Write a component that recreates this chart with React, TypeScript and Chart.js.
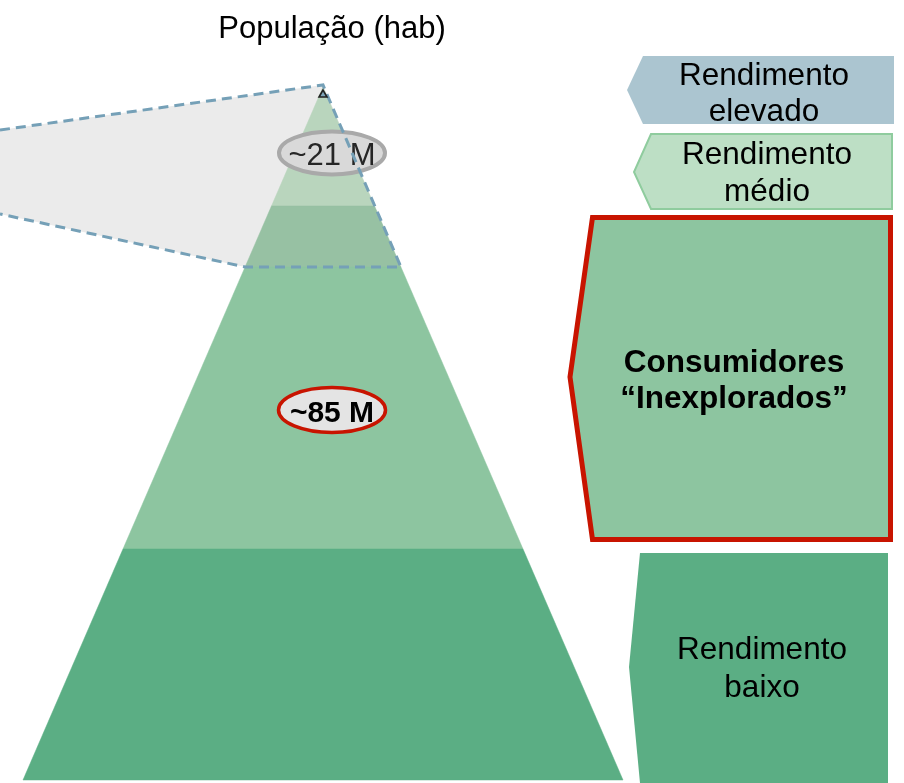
import { useEffect, useRef } from "react";
import { Chart, registerables } from "chart.js";

Chart.register(...registerables);

// ---- data ----
const chartTitle = "População (hab)";
// pyramid bands, bottom to top, as a share of the pyramid height (0 = base, 1 = apex)
const bandNames = ["Rendimento baixo", "Consumidores “Inexplorados”", "Rendimento médio", "Rendimento elevado"];
const bandBottoms = [0, 0.3333, 0.7403, 0.8283];
const bandTops = [0.3333, 0.7403, 0.8283, 1];
// population call-outs and the level at which they sit
const populationLabels = ["~85 M", "~21 M"];
const populationLevels = [0.534, 0.9048];
// side labels, top to bottom
const sideLabels = [
  ["Rendimento", "elevado"],
  ["Rendimento", "médio"],
  ["Consumidores", "“Inexplorados”"],
  ["Rendimento", "baixo"],
];

// ---- styles ----
const bandColors = ["#5bae84", "#8dc5a0", "#97c1a3", "#b9d5bd"];
const FONT = '"Liberation Sans", Arial, sans-serif';
const SX = 1.0;

const W = 904;
const H = 783;
const CX = 323; // pixel of pyramid centre
const BASE = 780; // pixel of pyramid base
const APEX = 87; // pixel of apex
const HALF = 300; // pixel half-width of base
const PXU = BASE - APEX;

function drawText(ctx: CanvasRenderingContext2D, text: string, x: number, y: number, font: string, color: string) {
  ctx.save();
  ctx.font = font;
  ctx.fillStyle = color;
  ctx.textAlign = "center";
  ctx.textBaseline = "alphabetic";
  ctx.translate(x, y);
  ctx.scale(SX, 1);
  ctx.fillText(text, 0, 0);
  ctx.restore();
}

function poly(ctx: CanvasRenderingContext2D, pts: number[][]) {
  ctx.beginPath();
  pts.forEach((p, i) => (i === 0 ? ctx.moveTo(p[0], p[1]) : ctx.lineTo(p[0], p[1])));
  ctx.closePath();
}

function calloutPoints(chart: any) {
  const xs = chart.scales.x;
  const ys = chart.scales.y;
  const L = bandBottoms[2];
  return [
    [0, 130],
    [xs.getPixelForValue(0), ys.getPixelForValue(1) - 2],
    [xs.getPixelForValue(1 - L), ys.getPixelForValue(L)],
    [xs.getPixelForValue(-(1 - L)), ys.getPixelForValue(L)],
    [0, 214],
  ];
}

const overlayPlugin = {
  id: "overlay",
  beforeDatasetsDraw(chart: any) {
    const ctx = chart.ctx as CanvasRenderingContext2D;
    ctx.save();
    poly(ctx, calloutPoints(chart));
    ctx.fillStyle = "#ebebeb";
    ctx.fill();
    ctx.restore();
  },
  afterDatasetsDraw(chart: any) {
    const ctx = chart.ctx as CanvasRenderingContext2D;
    const xs = chart.scales.x;
    const ys = chart.scales.y;

    // ~21 M ellipse (grey)
    const ex = xs.getPixelForValue(0) + 9;
    ctx.save();
    ctx.beginPath();
    ctx.ellipse(ex, ys.getPixelForValue(populationLevels[1]), 53, 21.5, 0, 0, Math.PI * 2);
    ctx.fillStyle = "#d9d9d9";
    ctx.fill();
    ctx.lineWidth = 4;
    ctx.strokeStyle = "#a9a9a9";
    ctx.stroke();
    ctx.restore();
    drawText(ctx, populationLabels[1], ex, ys.getPixelForValue(populationLevels[1]) + 12, `31px ${FONT}`, "#262626");

    // ~85 M ellipse (red)
    ctx.save();
    ctx.beginPath();
    ctx.ellipse(ex, ys.getPixelForValue(populationLevels[0]), 53.5, 22.5, 0, 0, Math.PI * 2);
    ctx.fillStyle = "#e4e4e4";
    ctx.fill();
    ctx.lineWidth = 3.5;
    ctx.strokeStyle = "#c81400";
    ctx.stroke();
    ctx.restore();
    drawText(ctx, populationLabels[0], ex, ys.getPixelForValue(populationLevels[0]) + 12, `bold 30px ${FONT}`, "#000");

    // dashed call-out outline
    const cp = calloutPoints(chart);
    ctx.save();
    ctx.beginPath();
    cp.forEach((p, i) => (i === 0 ? ctx.moveTo(p[0], p[1]) : ctx.lineTo(p[0], p[1])));
    ctx.setLineDash([10, 6]);
    ctx.lineWidth = 3;
    ctx.strokeStyle = "#75a0b7";
    ctx.stroke();
    ctx.restore();

    // apex marker
    const ax = xs.getPixelForValue(0);
    ctx.save();
    poly(ctx, [
      [ax, 90],
      [ax - 4, 97],
      [ax + 4, 97],
    ]);
    ctx.fillStyle = "#7fa7ba";
    ctx.fill();
    ctx.lineWidth = 1.6;
    ctx.strokeStyle = "#222";
    ctx.stroke();
    ctx.restore();

    // title
    drawText(ctx, chartTitle, 332, 38, `31px ${FONT}`, "#000");

    // side boxes
    ctx.save();
    // elevado
    poly(ctx, [[643, 56], [894, 56], [894, 124], [643, 124], [627, 90]]);
    ctx.fillStyle = "#abc5d0";
    ctx.fill();
    // medio
    poly(ctx, [[651, 134], [892, 134], [892, 209], [651, 209], [634, 172]]);
    ctx.fillStyle = "#bddfc5";
    ctx.fill();
    ctx.lineWidth = 2;
    ctx.strokeStyle = "#8fcc9e";
    ctx.stroke();
    // consumidores
    poly(ctx, [[592.5, 217.5], [890.5, 217.5], [890.5, 539.5], [592.5, 539.5], [570, 377]]);
    ctx.fillStyle = bandColors[1];
    ctx.fill();
    ctx.lineWidth = 5;
    ctx.lineJoin = "miter";
    ctx.strokeStyle = "#c81400";
    ctx.stroke();
    // baixo
    poly(ctx, [[640, 553], [888, 553], [888, 783], [640, 783], [629, 667]]);
    ctx.fillStyle = bandColors[0];
    ctx.fill();
    ctx.restore();

    const reg = `31.5px ${FONT}`;
    const bold = `bold 31.5px ${FONT}`;
    drawText(ctx, sideLabels[0][0], 764, 85, reg, "#000");
    drawText(ctx, sideLabels[0][1], 764, 121, reg, "#000");
    drawText(ctx, sideLabels[1][0], 767, 164, reg, "#000");
    drawText(ctx, sideLabels[1][1], 767, 201, reg, "#000");
    drawText(ctx, sideLabels[2][0], 734, 372, bold, "#000");
    drawText(ctx, sideLabels[2][1], 734, 408, bold, "#000");
    drawText(ctx, sideLabels[3][0], 762, 659, reg, "#000");
    drawText(ctx, sideLabels[3][1], 762, 697, reg, "#000");
  },
};

export default function App() {
  const ref = useRef<HTMLCanvasElement | null>(null);

  useEffect(() => {
    if (!ref.current) return;
    const datasets = bandNames.map((name, i) => {
      const b = bandBottoms[i];
      const t = bandTops[i];
      return {
        label: name,
        data: [
          { x: -(1 - b), y: b },
          { x: 1 - b, y: b },
          { x: 1 - t, y: t },
          { x: -(1 - t), y: t },
          { x: -(1 - b), y: b },
        ],
        showLine: true,
        fill: "shape" as any,
        backgroundColor: bandColors[i],
        borderColor: bandColors[i],
        borderWidth: 0.5,
        pointRadius: 0,
        tension: 0,
      };
    });

    const chart = new Chart(ref.current, {
      type: "scatter",
      data: { datasets },
      options: {
        animation: false,
        responsive: false,
        devicePixelRatio: 1,
        events: [],
        layout: { padding: 0 },
        plugins: { legend: { display: false }, tooltip: { enabled: false }, title: { display: false } },
        scales: {
          x: { type: "linear", display: false, min: -CX / HALF, max: (W - CX) / HALF },
          y: { type: "linear", display: false, min: -(H - BASE) / PXU, max: 1 + APEX / PXU },
        },
      },
      plugins: [overlayPlugin],
    });
    return () => chart.destroy();
  }, []);

  return (
    <div style={{ position: "absolute", left: 0, top: 0, width: W, height: H, background: "#fff" }}>
      <canvas ref={ref} width={W} height={H} style={{ display: "block" }} />
    </div>
  );
}
